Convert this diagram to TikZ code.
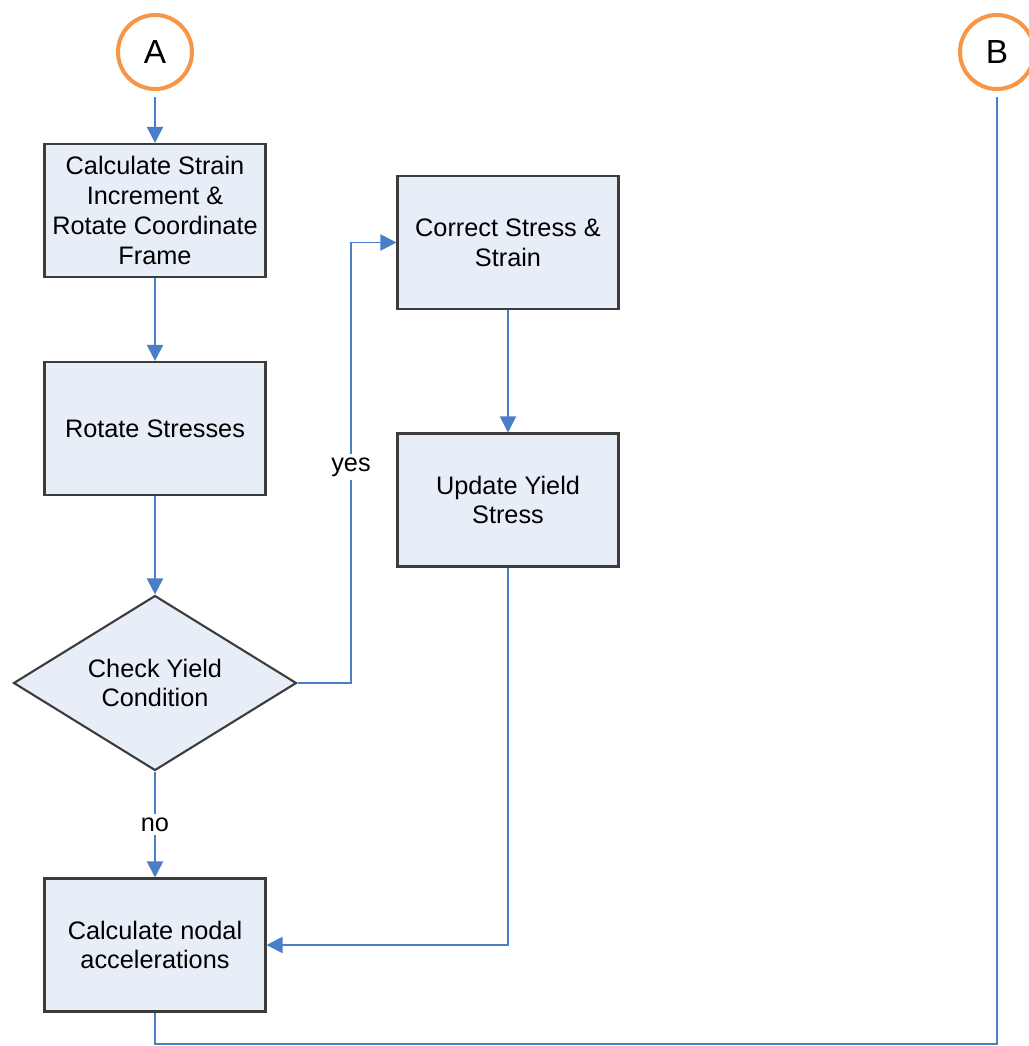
\documentclass[tikz,border=0pt]{standalone}
\usepackage{fontspec}
\setmainfont{Liberation Sans}
\usetikzlibrary{shapes.geometric, arrows.meta, positioning}

\definecolor{boxfill}{RGB}{232,238,248}
\definecolor{boxline}{RGB}{60,60,60}
\definecolor{flowblue}{RGB}{74,126,198}
\definecolor{conorange}{RGB}{247,150,70}

\begin{document}
\begin{tikzpicture}[x=0.02cm, y=-0.02cm,
    stepbox/.style={rectangle, draw=boxline, line width=1.2pt, fill=boxfill, minimum width=4.42cm, minimum height=2.66cm, align=center, font=\fontsize{14.4}{17}\selectfont},
    decide/.style={diamond, draw=boxline, line width=1.2pt, fill=boxfill, minimum width=5.66cm, minimum height=3.5cm, aspect=1.6, inner sep=0pt, align=center, font=\fontsize{14.4}{17}\selectfont},
    connector/.style={circle, draw=conorange, line width=2.3pt, fill=white, minimum size=1.48cm, inner sep=0pt, font=\fontsize{19}{22}\selectfont},
    flow/.style={draw=flowblue, line width=1.1pt, -{Triangle[length=0.32cm, width=0.32cm]}},
    flowline/.style={draw=flowblue, line width=1.1pt},
    lbl/.style={fill=white, inner sep=2pt, font=\fontsize{14.4}{17}\selectfont}]
  \useasboundingbox (0,0) rectangle (1029,1046);

  % Connectors
  \node[connector] (conA) at (155,52) {A};
  \node[connector] (conB) at (997,52) {B};

  % Left column
  \node[stepbox] (strain) at (155,210.5) {Calculate Strain\\Increment \&\\Rotate Coordinate\\Frame};
  \node[stepbox] (rotate) at (155,428.5) {Rotate Stresses};
  \node[decide] (yield) at (155,683) {Check Yield\\Condition};
  \node[stepbox] (accel) at (155,945) {Calculate nodal\\accelerations};

  % Right column
  \node[stepbox] (correct) at (508,242.5) {Correct Stress \&\\Strain};
  \node[stepbox] (update) at (508,500) {Update Yield\\Stress};

  % Arrows
  \draw[flow, shorten <=0.12cm] (conA) -- (strain);
  \draw[flow] (strain) -- (rotate);
  \draw[flow] (rotate) -- (yield);
  \draw[flow] (yield) -- node[lbl] {no} (accel);
  \draw[flow] (yield.east) -- ++(53.5,0) |- node[lbl, pos=0.245] {yes} (correct.west);
  \draw[flow] (correct) -- (update);
  \draw[flow] (update.south) |- (accel.east);
  \draw[flowline, shorten >=0.12cm] (accel.south) -- ++(0,31) -| (conB);
\end{tikzpicture}
\end{document}
